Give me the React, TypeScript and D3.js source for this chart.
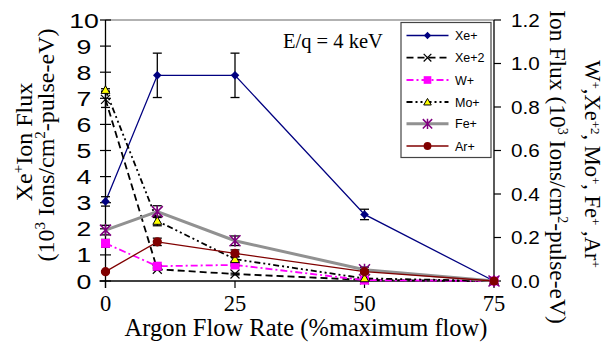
import React from "react";
import * as d3 from "d3";

// Argon flow rate (% of maximum flow)
const flowRates = [0, 10, 25, 50, 75];

// Xe+ flux on the left axis (10^3 ions/cm^2-pulse-eV)
const xePlus = [3.05, 7.88, 7.88, 2.55, 0];
const xePlusErr = [0.18, 0.85, 0.85, 0.2, 0];

// Minor species on the right axis (10^3 ions/cm^2-pulse-eV)
const xe2Plus = [0.835, 0.054, 0.032, 0.005, 0];
const xe2PlusErr = [0.037, 0.004, 0.004, 0, 0];
const wPlus = [0.173, 0.068, 0.074, 0.004, 0];
const wPlusErr = [0.018, 0.004, 0.005, 0, 0];
const moPlus = [0.878, 0.276, 0.1, 0.012, 0];
const moPlusErr = [0.006, 0.022, 0.012, 0.004, 0];
const fePlus = [0.234, 0.319, 0.185, 0.052, 0];
const fePlusErr = [0.022, 0.027, 0.022, 0.012, 0];
const arPlus = [0.043, 0.18, 0.127, 0.043, 0];
const arPlusErr = [0.004, 0.017, 0.016, 0.008, 0];

const xTicks = [0, 25, 50, 75];
const leftTicks = [0, 1, 2, 3, 4, 5, 6, 7, 8, 9, 10];
const rightTicks = [0, 0.2, 0.4, 0.6, 0.8, 1.0, 1.2];

type Marker = "diamond" | "cross" | "square" | "triangle" | "star" | "circle";

interface Series {
  name: string;
  values: number[];
  errors: number[];
  axis: "left" | "right";
  color: string;
  width: number;
  dash: string;
  marker: Marker;
  markerFill: string;
}

const series: Series[] = [
  { name: "Xe+", values: xePlus, errors: xePlusErr, axis: "left", color: "#000080", width: 1.3, dash: "", marker: "diamond", markerFill: "#000080" },
  { name: "Xe+2", values: xe2Plus, errors: xe2PlusErr, axis: "right", color: "#000000", width: 1.8, dash: "7,4", marker: "cross", markerFill: "#000000" },
  { name: "W+", values: wPlus, errors: wPlusErr, axis: "right", color: "#ff00ff", width: 1.8, dash: "7,3,2,3", marker: "square", markerFill: "#ff00ff" },
  { name: "Mo+", values: moPlus, errors: moPlusErr, axis: "right", color: "#000000", width: 1.8, dash: "6,3,2,3,2,3", marker: "triangle", markerFill: "#ffff00" },
  { name: "Fe+", values: fePlus, errors: fePlusErr, axis: "right", color: "#919191", width: 3, dash: "", marker: "star", markerFill: "#800080" },
  { name: "Ar+", values: arPlus, errors: arPlusErr, axis: "right", color: "#800000", width: 1.3, dash: "", marker: "circle", markerFill: "#800000" },
];

const W = 604;
const H = 343;
const plot = { left: 105.5, right: 494, top: 20, bottom: 281 };

const x = d3.scaleLinear().domain([0, 75]).range([plot.left, plot.right]);
const yLeft = d3.scaleLinear().domain([0, 10]).range([plot.bottom, plot.top]);
const yRight = d3.scaleLinear().domain([0, 1.2]).range([plot.bottom, plot.top]);

const SANS = "'Liberation Sans', Arial, sans-serif";
const SERIF = "'Liberation Serif', 'Times New Roman', serif";

function MarkerShape({ kind, cx, cy, fill, scale = 1 }: { kind: Marker; cx: number; cy: number; fill: string; scale?: number }) {
  const s = scale;
  switch (kind) {
    case "diamond": {
      const r = 4.3 * s;
      return <path d={`M${cx},${cy - r}L${cx + r},${cy}L${cx},${cy + r}L${cx - r},${cy}Z`} fill={fill} />;
    }
    case "cross": {
      const r = 4.5 * s;
      return (
        <path d={`M${cx - r},${cy - r}L${cx + r},${cy + r}M${cx - r},${cy + r}L${cx + r},${cy - r}`} stroke={fill} strokeWidth={1.2} fill="none" />
      );
    }
    case "square": {
      const r = 4.5 * s;
      return <rect x={cx - r} y={cy - r} width={2 * r} height={2 * r} fill={fill} />;
    }
    case "triangle": {
      const p = d3.symbol(d3.symbolTriangle, 34 * s * s)()!;
      return <path d={p} transform={`translate(${cx},${cy + 0.8})`} fill={fill} stroke="#000" strokeWidth={1} />;
    }
    case "star": {
      const r = 5.5 * s;
      return (
        <path
          d={`M${cx - r},${cy - r}L${cx + r},${cy + r}M${cx - r},${cy + r}L${cx + r},${cy - r}M${cx},${cy - r * 1.1}L${cx},${cy + r * 1.1}`}
          stroke={fill}
          strokeWidth={1.5}
          fill="none"
        />
      );
    }
    case "circle":
      return <circle cx={cx} cy={cy} r={4.6 * s} fill={fill} />;
  }
}

export default function App() {
  const line = (s: Series) => {
    const yS = s.axis === "left" ? yLeft : yRight;
    return d3
      .line<number>()
      .x((_, i) => x(flowRates[i]))
      .y((v) => yS(v))(s.values)!;
  };

  const legendX0 = 406.5;
  const legendX1 = 448.5;
  const legendMid = 427.5;
  const legendRows = [35.5, 57.7, 80, 102, 123.8, 146];

  return (
    <svg width={W} height={H} style={{ position: "absolute", left: 0, top: 0, background: "#fff" }}>
      <rect x={0} y={0} width={W} height={H} fill="#fff" />

      {/* plot frame: grey top edge, black axes */}
      <line x1={plot.left} x2={plot.right} y1={plot.top} y2={plot.top} stroke="#999" strokeWidth={1.5} />
      <line x1={plot.left} x2={plot.left} y1={plot.top} y2={plot.bottom + 7} stroke="#000" strokeWidth={1.3} />
      <line x1={plot.right} x2={plot.right} y1={plot.top} y2={plot.bottom} stroke="#000" strokeWidth={1.3} />
      <line x1={plot.left - 6} x2={plot.right} y1={plot.bottom} y2={plot.bottom} stroke="#000" strokeWidth={1.3} />

      {/* left axis */}
      {leftTicks.map((t) => (
        <g key={`l${t}`}>
          <line x1={plot.left - 5.5} x2={plot.left + 5.5} y1={yLeft(t)} y2={yLeft(t)} stroke="#000" strokeWidth={1.2} />
          <text
            transform={`translate(84,${yLeft(t) + 7.5}) scale(1.3,1)`}
            textAnchor="middle"
            fontFamily={SANS}
            fontSize={20.5}
            fill="#000"
          >
            {t}
          </text>
        </g>
      ))}

      {/* right axis */}
      {rightTicks.map((t) => (
        <g key={`r${t}`}>
          <line x1={plot.right} x2={plot.right + 7} y1={yRight(t)} y2={yRight(t)} stroke="#000" strokeWidth={1.2} />
          <text
            transform={`translate(511,${yRight(t) + 6.5}) scale(1.18,1)`}
            textAnchor="start"
            fontFamily={SANS}
            fontSize={17.5}
            fill="#000"
          >
            {t.toFixed(1)}
          </text>
        </g>
      ))}

      {/* bottom axis */}
      {xTicks.map((t) => (
        <g key={`x${t}`}>
          <line x1={x(t)} x2={x(t)} y1={plot.bottom} y2={plot.bottom + 7} stroke="#000" strokeWidth={1.2} />
          <text x={x(t)} y={311} textAnchor="middle" fontFamily={SERIF} fontSize={22.5} fill="#000">
            {t}
          </text>
        </g>
      ))}

      {/* axis titles */}
      <text x={306} y={336} textAnchor="middle" fontFamily={SERIF} fontSize={24.5} fill="#000">
        Argon Flow Rate (%maximum flow)
      </text>
      <text transform="translate(32,142) rotate(-90)" textAnchor="middle" fontFamily={SERIF} fontSize={24} fill="#000">
        Xe<tspan dy={-9} fontSize={15}>+</tspan>
        <tspan dy={9}>Ion Flux</tspan>
      </text>
      <text transform="translate(54,145) rotate(-90)" textAnchor="middle" fontFamily={SERIF} fontSize={24} fill="#000">
        (10<tspan dy={-9} fontSize={15}>3</tspan>
        <tspan dy={9}> Ions/cm</tspan>
        <tspan dy={-9} fontSize={15}>2</tspan>
        <tspan dy={9}>-pulse-eV)</tspan>
      </text>
      <text transform="translate(550,167) rotate(90)" textAnchor="middle" fontFamily={SERIF} fontSize={23.5} fill="#000">
        Ion Flux (10<tspan dy={-8} fontSize={14}>3</tspan>
        <tspan dy={8}> Ions/cm</tspan>
        <tspan dy={-8} fontSize={14}>2</tspan>
        <tspan dy={8}>-pulse-eV)</tspan>
      </text>
      <text transform="translate(585,164) rotate(90)" textAnchor="middle" fontFamily={SERIF} fontSize={22.5} fill="#000">
        W<tspan dy={-6} fontSize={13}>+</tspan>
        <tspan dy={6}>,Xe</tspan>
        <tspan dy={-6} fontSize={13}>+2</tspan>
        <tspan dy={6}>, Mo</tspan>
        <tspan dy={-6} fontSize={13}>+</tspan>
        <tspan dy={6}>, Fe</tspan>
        <tspan dy={-6} fontSize={13}>+</tspan>
        <tspan dy={6}> ,Ar</tspan>
        <tspan dy={-6} fontSize={13}>+</tspan>
      </text>

      <text x={283} y={48} fontFamily={SERIF} fontSize={20.5} fill="#000">
        E/q = 4 keV
      </text>

      {/* series lines */}
      {series.map((s) => (
        <path key={`p${s.name}`} d={line(s)} fill="none" stroke={s.color} strokeWidth={s.width} strokeDasharray={s.dash || undefined} />
      ))}

      {/* error bars */}
      {series.map((s) => {
        const yS = s.axis === "left" ? yLeft : yRight;
        return s.values.map((v, i) => {
          const e = s.errors[i];
          if (!e) return null;
          const cx = x(flowRates[i]);
          const y1 = yS(v + e);
          const y2 = yS(v - e);
          return (
            <g key={`e${s.name}${i}`} stroke="#000" strokeWidth={1.3}>
              <line x1={cx} x2={cx} y1={y1} y2={y2} />
              <line x1={cx - 4.5} x2={cx + 4.5} y1={y1} y2={y1} />
              <line x1={cx - 4.5} x2={cx + 4.5} y1={y2} y2={y2} />
            </g>
          );
        });
      })}

      {/* markers */}
      {series.map((s) => {
        const yS = s.axis === "left" ? yLeft : yRight;
        return s.values.map((v, i) => (
          <MarkerShape key={`m${s.name}${i}`} kind={s.marker} cx={x(flowRates[i])} cy={yS(v)} fill={s.markerFill} />
        ));
      })}

      {/* legend */}
      <rect x={401} y={22.5} width={90} height={135} fill="#fff" stroke="#444" strokeWidth={1.2} />
      {series.map((s, i) => {
        const ly = legendRows[i];
        return (
          <g key={`lg${s.name}`}>
            <line x1={legendX0} x2={legendX1} y1={ly} y2={ly} stroke={s.color} strokeWidth={s.width} strokeDasharray={s.dash || undefined} />
            <MarkerShape kind={s.marker} cx={legendMid} cy={ly} fill={s.markerFill} scale={0.85} />
            <text x={455} y={ly + 4.5} fontFamily={SANS} fontSize={12.5} fill="#000">
              {s.name}
            </text>
          </g>
        );
      })}
    </svg>
  );
}
